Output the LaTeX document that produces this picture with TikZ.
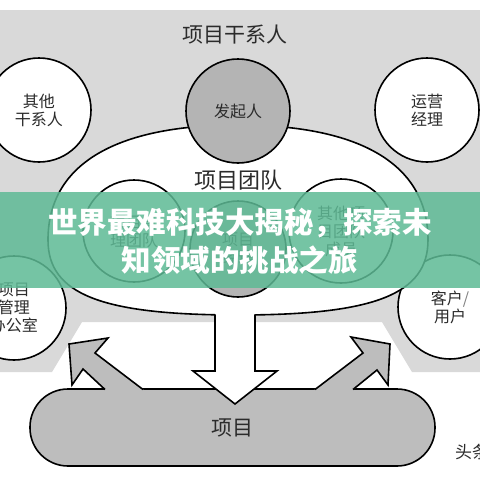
\documentclass[tikz,border=0pt]{standalone}
\usepackage{fontspec}
\setmainfont{Noto Sans CJK SC}
\usetikzlibrary{shapes.geometric}
\definecolor{bggray}{HTML}{D9D9D9}
\definecolor{midgray}{HTML}{B4B4B4}
\definecolor{boxgray}{HTML}{BDBDBD}
\definecolor{txt}{HTML}{2B2B2B}
\definecolor{banner}{RGB}{94,186,149}
\tikzset{
  circ/.style={circle, draw=black, line width=1.6pt, inner sep=0pt, text=txt,
    font=\fontsize{16}{18}\selectfont, align=center},
  lbl/.style={text=txt, inner sep=0pt, align=center},
  outline/.style={draw=black, line width=1.6pt, line join=miter},
}
\begin{document}
\begin{tikzpicture}[x=1pt, y=-1pt]
\clip (0,0) rectangle (480,480);
\fill[white] (0,0) rectangle (480,480);
% gray background
\fill[bggray] (0,10) -- (480,10) -- (480,372) -- (412,372) -- (382,322)
  -- (82,322) -- (52,372) -- (0,372) -- cycle;
\node[lbl, font=\fontsize{21}{24}\selectfont] (title) at (235,35) {项目干系人};
% outer circles
\node[circ, fill=white, minimum size=104pt] (other) at (39,110) {其他\\干系人};
\node[circ, fill=white, minimum size=104pt] (ops) at (427,110) {运营\\经理};
\node[circ, fill=white, minimum size=104pt] (pmo) at (14,308) {项目\\管理\\办公室};
\node[circ, fill=white, minimum size=104pt] (cust) at (450,307) {客户\textcolor{gray}{/}\\用户};
% team oval
\path[outline, fill=white] (48,240) .. controls (48,165) and (114.5,125) .. (238,125)
  .. controls (361.5,125) and (428,165) .. (428,240)
  .. controls (428,294) and (375,315) .. (238,315)
  .. controls (101,315) and (48,294) .. (48,240) -- cycle;
\node[circ, fill=midgray, minimum size=104pt] (sponsor) at (238,111) {发起人};
\node[lbl, font=\fontsize{22}{24}\selectfont] (teamlbl) at (238,180) {项目团队};
\node[circ, fill=white, minimum size=102pt] (pmt) at (134,231) {项目管\\理团队};
\node[circ, fill=white, minimum size=104pt] (oth) at (341,231) {其他项\\目团队\\成员};
\node[circ, fill=midgray, minimum size=96pt] (pm) at (238,249) {项目\\经理};
% project box
\node[outline, fill=boxgray, rounded corners=38pt, minimum width=405pt,
  minimum height=77pt, inner sep=0pt, text=txt, font=\fontsize{21}{24}\selectfont]
  (proj) at (232.5,427.5) {项目};
% left arrow
\fill[boxgray] (106,391) -- (83,369) -- (72,385) -- (69,344) -- (108,338)
  -- (95,353) -- (145,391) -- cycle;
\draw[outline] (105,389.5) -- (83,369) -- (72,385) -- (69,344) -- (108,338)
  -- (95,353) -- (143,389.5);
% right arrow
\fill[boxgray] (352,391) -- (377,370) -- (388,385) -- (390,344) -- (351,337)
  -- (363,353) -- (313,391) -- cycle;
\draw[outline] (353,389.5) -- (377,370) -- (388,385) -- (390,344) -- (351,337)
  -- (363,353) -- (315,389.5);
% down arrow
\fill[white] (215,303) -- (215,371) -- (193,371) -- (235,404) -- (277,371)
  -- (255,371) -- (255,303) -- cycle;
\draw[outline] (215,314.3) -- (215,371) -- (193,371) -- (235,404) -- (277,371)
  -- (255,371) -- (255,314.3);
% watermark
\node[lbl, anchor=west, font=\fontsize{17}{20}\selectfont] (wm) at (455,452) {头条};
% banner
\fill[banner, fill opacity=0.85] (0,192) rectangle (480,288);
\node[text=white, inner sep=0pt, align=center, font=\bfseries\fontsize{29.5}{38}\selectfont]
  (ban) at (240,241) {世界最难科技大揭秘，探索未\\知领域的挑战之旅};
\end{tikzpicture}
\end{document}
